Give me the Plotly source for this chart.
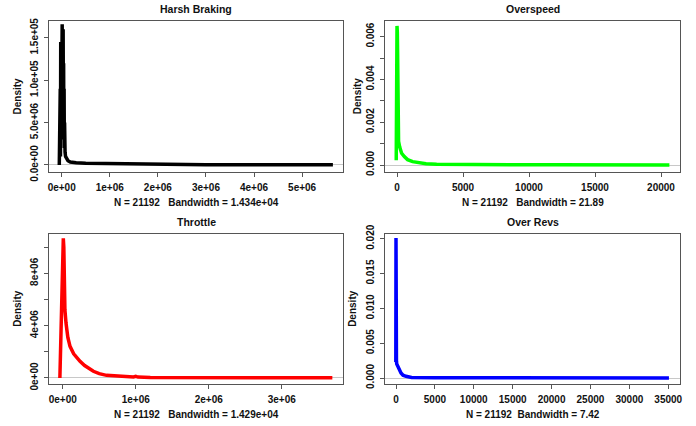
import plotly.graph_objects as go

# ---------------- data ----------------
titles = ["Harsh Braking", "Overspeed", "Throttle", "Over Revs"]
xlabels = ["N = 21192\u00a0\u00a0\u00a0Bandwidth = 1.434e+04",
           "N = 21192\u00a0\u00a0\u00a0Bandwidth = 21.89",
           "N = 21192\u00a0\u00a0\u00a0Bandwidth = 1.429e+04",
           "N = 21192\u00a0\u00a0Bandwidth = 7.42"]

harsh_x = [-50000, -45000, -40000, -30000, -25000, -20000, -15000, -10000, -5000, 0,
           5000, 10000, 15000, 20000, 25000, 30000, 35000, 40000, 45000, 50000,
           55000, 60000, 70000, 80000, 100000, 130000, 180000, 300000, 500000, 800000,
           1000000, 1500000, 1600000, 1750000, 1800000, 1850000, 2000000, 3000000, 5640000]
harsh_y = [0.0, 0.35e-5, 0.02e-5, 0.9e-5, 0.1e-5, 1.45e-5, 0.3e-5, 1.3e-5, 0.5e-5, 1.65e-5,
           0.8e-5, 1.66e-5, 0.6e-5, 1.5e-5, 0.4e-5, 1.6e-5, 0.7e-5, 1.2e-5, 0.3e-5, 0.9e-5,
           0.2e-5, 0.5e-5, 0.15e-5, 0.1e-5, 0.07e-5, 0.05e-5, 0.035e-5, 0.025e-5, 0.02e-5, 0.018e-5,
           0.012e-5, 0.01e-5, 0.008e-5, 0.012e-5, 0.005e-5, 0.01e-5, 0.003e-5, 0.002e-5, 0.002e-5]

over_x = [-58, -40, -20, 0, 25, 45, 60, 80, 120, 200, 350, 553, 800, 1185, 1600,
          2200, 3000, 6000, 12000, 20635]
over_y = [0.00022, 0.0044, 0.0062, 0.0065, 0.0062, 0.0053, 0.0030, 0.0015, 0.0011, 0.00085,
          0.00055, 0.00039, 0.00025, 0.000156, 0.0001, 0.00006, 0.00003, 0.000012, 0.000006, 0.000003]

thr_x = [-39000, -25000, -12000, 0, 8000, 15000, 22000, 30000, 45000, 70000, 100000, 150000,
         237000, 300000, 420000, 500000, 600000, 800000, 970000, 1000000, 1030000, 1200000,
         2000000, 3693000]
thr_y = [0.0, 3.0e-7, 7.5e-7, 10.6e-7, 10.68e-7, 10.0e-7, 7.0e-7, 5.2e-7, 4.2e-7, 3.1e-7, 2.42e-7,
         1.85e-7, 1.27e-7, 0.95e-7, 0.51e-7, 0.33e-7, 0.2e-7, 0.11e-7, 0.08e-7, 0.12e-7, 0.07e-7,
         0.04e-7, 0.02e-7, 0.01e-7]

revs_x = [-22, -15, 0, 12, 20, 30, 60, 100, 220, 400, 643, 900, 1286, 2000, 5000, 35090]
revs_y = [0.0023, 0.0200, 0.0201, 0.0125, 0.0040, 0.0030, 0.0024, 0.0020, 0.00168, 0.0011,
          0.00072, 0.0004, 0.00024, 0.00008, 0.00003, 0.00001]

colors = ["#000000", "#00FF00", "#FF0000", "#0000FF"]

x_tickvals = [[0, 1e6, 2e6, 3e6, 4e6, 5e6],
              [0, 5000, 10000, 15000, 20000],
              [0, 1e6, 2e6, 3e6],
              [0, 5000, 10000, 15000, 20000, 25000, 30000, 35000]]
x_ticktext = [["0e+00", "1e+06", "2e+06", "3e+06", "4e+06", "5e+06"],
              ["0", "5000", "10000", "15000", "20000"],
              ["0e+00", "1e+06", "2e+06", "3e+06"],
              ["0", "5000", "10000", "15000", "20000", "25000", "30000", "35000"]]
y_tickvals = [[0, 0.5e-5, 1.0e-5, 1.5e-5],
              [0, 0.001, 0.002, 0.003, 0.004, 0.005, 0.006],
              [0, 2e-7, 4e-7, 6e-7, 8e-7, 10e-7],
              [0, 0.005, 0.010, 0.015, 0.020]]
y_ticktext = [["0.0e+00", "5.0e+06", "1.0e+05", "1.5e+05"],
              ["0.000", "", "0.002", "", "0.004", "", "0.006"],
              ["0e+00", "", "4e+06", "", "8e+06", ""],
              ["0.000", "0.005", "0.010", "0.015", "0.020"]]

# ---------------- layout geometry ----------------
W, H = 696, 426
boxes = [(49, 343, 21, 172), (385.3, 680.3, 20.7, 171.7),
         (49, 343.3, 233.7, 384), (385.3, 680.3, 233.7, 384)]
x_ranges = [[-0.264e6, 5.85e6], [-886, 21462], [-0.188e6, 3.843e6], [-1375, 36550]]
y_ranges = [[-0.083e-5, 1.698e-5], [-0.000313, 0.006743], [-0.46e-7, 11.03e-7], [-0.00086, 0.02072]]
ylab_x = [17, 357, 18, 353]

FONT = "Liberation Sans"
TXT = "#111111"
BOX = "#555555"

fig = go.Figure()
xs = [harsh_x, over_x, thr_x, revs_x]
ys = [harsh_y, over_y, thr_y, revs_y]
annotations = []
for i in range(4):
    xa = "x" if i == 0 else f"x{i+1}"
    ya = "y" if i == 0 else f"y{i+1}"
    fig.add_trace(go.Scatter(x=xs[i], y=ys[i], mode="lines",
                             line=dict(color=colors[i], width=3.5),
                             xaxis=xa, yaxis=ya, showlegend=False, hoverinfo="skip"))
    l, r, t, b = boxes[i]
    axis_common = dict(showline=True, mirror=True, linecolor=BOX, linewidth=1,
                       showgrid=False, ticks="outside", ticklen=4, tickcolor=BOX,
                       tickfont=dict(family=FONT, size=10, color=TXT, weight="bold"))
    fig.layout[f"xaxis{'' if i == 0 else i+1}"] = dict(
        domain=[l / W, r / W], anchor=ya, range=x_ranges[i],
        tickmode="array", tickvals=x_tickvals[i], ticktext=x_ticktext[i],
        zeroline=False, ticklabelstandoff=2, **axis_common)
    fig.layout[f"yaxis{'' if i == 0 else i+1}"] = dict(
        domain=[1 - b / H, 1 - t / H], anchor=xa, range=y_ranges[i],
        tickmode="array", tickvals=y_tickvals[i], ticktext=y_ticktext[i],
        tickangle=-90, zeroline=True, zerolinecolor="#c8c8c8", zerolinewidth=1,
        ticklabelstandoff=2, **axis_common)
    cx = (l + r) / 2 / W
    annotations.append(dict(text=titles[i], x=cx, y=1 - (t - 12) / H, xref="paper", yref="paper",
                            showarrow=False, xanchor="center", yanchor="middle",
                            font=dict(family=FONT, size=10.5, color=TXT, weight="bold")))
    annotations.append(dict(text=xlabels[i], x=cx, y=1 - (b + 30.5) / H, xref="paper", yref="paper",
                            showarrow=False, xanchor="center", yanchor="middle",
                            font=dict(family=FONT, size=10, color=TXT, weight="bold")))
    annotations.append(dict(text="Density", x=ylab_x[i] / W, y=1 - (t + b) / 2 / H,
                            xref="paper", yref="paper", textangle=-90,
                            showarrow=False, xanchor="center", yanchor="middle",
                            font=dict(family=FONT, size=10, color=TXT, weight="bold")))

fig.update_layout(width=W, height=H, margin=dict(l=0, r=0, t=0, b=0, autoexpand=False),
                  paper_bgcolor="white", plot_bgcolor="white", annotations=annotations)
fig.write_html("out.html", config={"displayModeBar": False},
               post_script="document.body.style.margin='0';document.body.style.overflow='hidden';")
